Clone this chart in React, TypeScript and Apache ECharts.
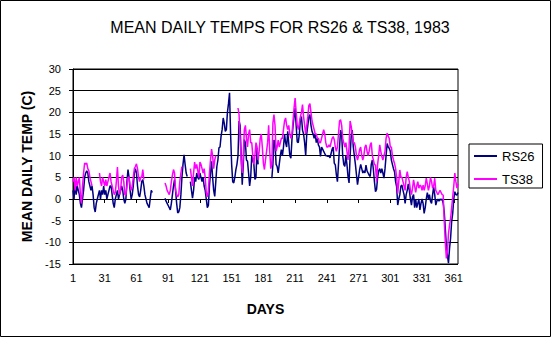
import React, { useEffect, useRef } from "react";
import * as echarts from "echarts";

const N = null;

const days: string[] = Array.from({ length: 365 }, (_, i) => String(i + 1));

// RS26 mean daily temperature (C), days 1-365 (null = missing)
const rs26: (number | null)[] = [
  // 1-10
  2, 0, 4, 1, 3, 2, 1, -1, -2, 0,
  // 11-20
  2, 5, 6, 6.5, 6, 4, 3, 2, 3, 1,
  // 21-30
  -2, -3, -1, 0, 1, 2, 0, 2, 1, 3,
  // 31-40
  1, 2, 0, 1, 2, 3, 3, 1, -1, -2,
  // 41-50
  0, 1, 2, 0, 1, 2, 3, 2, 0, -1,
  // 51-60
  0, 4, 6.8, 5, 2, 0, 1, 3, 6, 7,
  // 61-70
  6, 3, 1, 0.5, 2, 4, 4.5, 3, 1, 0,
  // 71-80
  -1, -1.5, -2, 0, 2, 1.5, N, N, N, N,
  // 81-90
  N, N, N, N, N, N, N, 0.2, -0.5, -1,
  // 91-100
  -1.5, -2, -2.5, -1, 1, 3, 4.5, 2, -1, -3.2,
  // 101-110
  -3, -2, 1, 5, 8, 10.2, 8, 6, 5.2, N,
  // 111-120
  N, 4, 2, 0.2, 2, 5, 4, 6, 5, 4.5,
  // 121-130
  6, 5, 4, 5, 3, 2, 0, -2, -1.5, 3,
  // 131-140
  6, 8.7, 5, 2, 0.6, 4, 7.5, 9, 11.8, 12,
  // 141-150
  14.5, 16, 18.7, 17.5, 15.6, 16, 20, 22, 24.5, 15,
  // 151-160
  8, 4, 3.7, 5, 6.8, 8, 10, 18, 17, 10,
  // 161-170
  3.3, 8, 13.7, 13, 9, 8.7, 6, 3, 5, 10,
  // 171-180
  9, 8, 4.5, 5, 11.8, 8, N, N, N, N,
  // 181-190
  N, N, N, N, N, N, N, N, 4.8, 8,
  // 191-200
  13.6, 13, 8, 7.5, 6, 8, 10, 11.4, 10, 12,
  // 201-210
  15, 13, 12, 15.6, 12.8, 10, 9.4, 13.7, 16.8, 19,
  // 211-220
  21, 17, 13.2, 13, 15, 18.5, 19, 15.9, 15, 13,
  // 221-230
  10, 15, 17, 19, 19.5, 17, 15.6, 15, 14, 15,
  // 231-240
  13, 14, 12.5, 12, 9.8, 12, 11.5, 11, 10.5, 10,
  // 241-250
  10, 9.8, 10, 9.5, 10.5, 11.5, 12, 8.3, 7.9, 5.6,
  // 251-260
  4, 8, 12, 15.9, 15, 10, 8, 7.5, 10, 8,
  // 261-270
  5.2, 3.7, 10, 14.5, 15.9, 12, 10, 8, 5.6, 3.3,
  // 271-280
  5, 6.8, 8, 7, 6, 6.5, 6, 7.8, 6.5, 6,
  // 281-290
  5.5, 5.2, 8, 9, 6.8, 4, 1.7, 2.2, 5, 6.5,
  // 291-300
  7, 6, 7, 6, 4.8, 7, 10, 12.8, 12, 11.7,
  // 301-310
  11, 9, 8, 7, 6.3, 4, 2.8, -1.4, 0, 1,
  // 311-320
  3, 3.2, 2, 1, -1, 1, 2, 3.5, 2, 0,
  // 321-330
  -1.4, 0.5, 1, -2, 0, -2, -1, 0, -2.5, -1,
  // 331-340
  0, -1, -3.3, -2, 0, 1.5, 0, 1, -0.5, -1,
  // 341-350
  1, 2.8, 1, -1.4, -0.5, 0, -0.5, 0, -0.2, 0,
  // 351-360
  -1, -3, -6.8, -11, -13, -14.8, -11.4, -9, -5.2, -3.3,
  // 361-365
  0, 1.7, 1, 0.9, 1.5,
];

// TS38 mean daily temperature (C), days 1-365 (null = missing)
const ts38: (number | null)[] = [
  // 1-10
  4, 5, 2, 5, 3, 4, 5, 1, -1, 3,
  // 11-20
  6, 8.3, 8, 8.3, 7, 6.5, 5, 4, 3, N,
  // 21-30
  N, N, N, N, N, 6, 4, 3, 5, 4,
  // 31-40
  3, 4.5, 3, 4, 5, 6, 4, 3, 2, 1,
  // 41-50
  1.5, 4, 7.4, 3, 1, 2, 5, 5.5, 4, 1,
  // 51-60
  1, 3, 5, 5, 3, 2, 3, 5, 7, 7.5,
  // 61-70
  8.1, 7, 5, 4, 5, 5, 6.8, 4.5, N, N,
  // 71-80
  N, N, N, N, N, N, N, N, N, N,
  // 81-90
  N, N, N, N, N, N, N, 3.7, 3, 2,
  // 91-100
  1.5, 1, 2, 4, 5.5, 6.8, 6, 2, 1, 0.5,
  // 101-110
  1, 4, 6, 7.5, N, N, N, N, N, N,
  // 111-120
  N, 7, 5, 3, 6, 8.5, 7, 8, 6.5, 5,
  // 121-130
  8.5, 8, 7, 6, 7, 5, 1.5, 0.5, 2, 6,
  // 131-140
  9, 11.5, 10, 7, 9, 10, N, N, N, N,
  // 141-150
  N, N, N, N, N, N, N, N, N, N,
  // 151-160
  N, N, N, N, N, N, 21, 19.5, 14, 9,
  // 161-170
  6, 10, 16, 17, 14, 12, 15, 16, 13, 13,
  // 171-180
  10, 8, 10, 13, 12, 9, 11, 14, 15, 12,
  // 181-190
  8.3, 6.8, 9, 11, 13, 17, 11, 7, 8, 17.5,
  // 191-200
  19.5, 17, 11, 12, 13.6, 12, 13, 14, 14, 16,
  // 201-210
  18, 18.7, 17, 16, 17, 15, 14, 15, 18, 21,
  // 211-220
  23.3, 20, 17, 16, 17.5, 19, 20, 21.8, 19, 17,
  // 221-230
  15, 17, 19, 21.6, 22, 20, 18, 17, 16, 15,
  // 231-240
  15, 14, 14, 13, 13, 14, 15, 16, 15, 13,
  // 241-250
  12, 12, 12.5, 12, 13, 14, 14.4, 13.7, 12, 11,
  // 251-260
  12, 15, 18, 18.3, 17, 14, 13, 12, 13, 11,
  // 261-270
  9, 12, 18, 16.8, 15, 13, 13, 12, 10, 9,
  // 271-280
  10, 11.4, 12, 10, 9, 10, 12, 12.5, 11, 10,
  // 281-290
  11, 12.5, 13, 10, 9, 8, 7.8, 4, 8, 10,
  // 291-300
  12.5, 11, 9.8, 9, 10, 11, 14, 15.2, 14.5, 14,
  // 301-310
  12, 12, 10, 9, 8.2, 7, 5, 1.3, 4, 6.7,
  // 311-320
  5, 5, 4, 3, 2, 5, 6.3, 5, 4, 2,
  // 321-330
  1, 2.5, 4.4, 3, 1.5, 3, 4, 2.5, 3.2, 3,
  // 331-340
  2, 3.2, 2, 3, 4.8, 3.5, 2, 3, 5, 4,
  // 341-350
  2.5, 3, 4.8, 2, 1.5, 1, 1.5, 2, 1.5, 1,
  // 351-360
  0.9, -5.2, -10, -13.7, -12, -8, -6, -4.5, -2, 0.5,
  // 361-365
  3, 6, 4, 2.5, 3.5,
];

const seriesNames = ["RS26", "TS38"];
const seriesColors = ["#000080", "#FF00FF"];

const FONT = "Liberation Sans, Arial, sans-serif";

export default function App() {
  const ref = useRef<HTMLDivElement>(null);
  useEffect(() => {
    if (!ref.current) return;
    const chart = echarts.init(ref.current, undefined, { renderer: "svg" });
    chart.setOption({
      animation: false,
      backgroundColor: "#fff",
      title: {
        text: "MEAN DAILY TEMPS FOR RS26 & TS38, 1983",
        left: 275,
        top: 14,
        textAlign: "center",
        textStyle: { fontFamily: FONT, fontSize: 16, fontWeight: "normal", color: "#000" },
      },
      legend: {
        orient: "vertical",
        left: 469,
        top: 144,
        width: 71,
        padding: [5, 8, 2, 5],
        itemGap: 9,
        itemWidth: 23,
        itemHeight: 2,
        borderColor: "#000",
        borderWidth: 1,
        borderRadius: 0,
        data: seriesNames.map((n) => ({ name: n, icon: "rect" })),
        textStyle: { fontFamily: FONT, fontSize: 13, lineHeight: 14, color: "#000" },
      },
      grid: {
        left: 73,
        top: 69,
        right: 93,
        bottom: 73,
        show: true,
        borderColor: "#000",
        borderWidth: 1,
      },
      xAxis: {
        type: "category",
        data: days,
        boundaryGap: false,
        name: "DAYS",
        nameLocation: "middle",
        nameGap: 38,
        nameTextStyle: { fontFamily: FONT, fontSize: 14, fontWeight: "bold", color: "#000" },
        axisLine: { lineStyle: { color: "#000", width: 1 } },
        axisTick: { interval: 29, length: 4, lineStyle: { color: "#000" } },
        axisLabel: { interval: 29, fontFamily: FONT, fontSize: 11, color: "#000", margin: 8 },
        splitLine: { show: false },
      },
      yAxis: {
        type: "value",
        min: -15,
        max: 30,
        interval: 5,
        name: "MEAN DAILY TEMP (C)",
        nameLocation: "middle",
        nameGap: 38,
        nameRotate: 90,
        nameTextStyle: { fontFamily: FONT, fontSize: 14, fontWeight: "bold", color: "#000" },
        axisLine: { show: true, lineStyle: { color: "#000", width: 1 } },
        axisTick: { show: true, length: 4, lineStyle: { color: "#000" } },
        axisLabel: { fontFamily: FONT, fontSize: 11, color: "#000", margin: 12 },
        splitLine: { show: true, lineStyle: { color: "#000", width: 1 } },
      },
      series: [
        {
          name: seriesNames[0],
          type: "line",
          data: rs26,
          symbol: "none",
          connectNulls: false,
          lineStyle: { color: seriesColors[0], width: 1.5 },
          itemStyle: { color: seriesColors[0] },
        },
        {
          name: seriesNames[1],
          type: "line",
          data: ts38,
          symbol: "none",
          connectNulls: false,
          lineStyle: { color: seriesColors[1], width: 1.5 },
          itemStyle: { color: seriesColors[1] },
        },
      ],
      graphic: [
        {
          type: "rect",
          shape: { x: 0.5, y: 0.5, width: 550, height: 336 },
          style: { fill: "none", stroke: "#000", lineWidth: 1 },
          silent: true,
        },
      ],
    });
    return () => chart.dispose();
  }, []);
  return (
    <div
      ref={ref}
      style={{ position: "fixed", left: 0, top: 0, width: 551, height: 337 }}
    />
  );
}
